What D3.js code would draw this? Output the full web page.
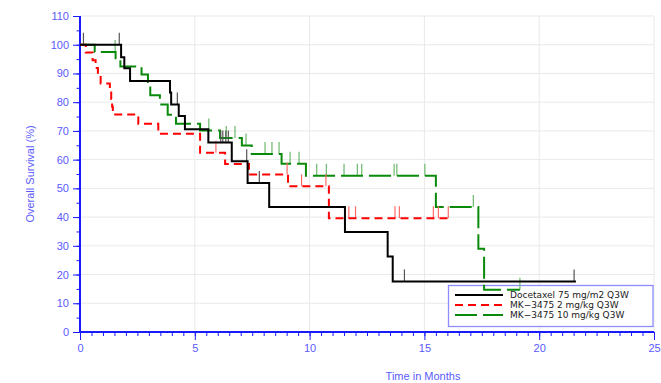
<!DOCTYPE html>
<html><head><meta charset="utf-8">
<script src="https://cdn.jsdelivr.net/npm/d3@7"></script>
<style>body{margin:0;background:#fff;}svg{display:block;font-family:"Liberation Sans",Arial,sans-serif;}</style>
</head><body><svg id="c" width="661" height="383"></svg>
<script>
// ---- data ----
const seriesNames = ["Docetaxel 75 mg/m2 Q3W", "MK\u22123475 2 mg/kg Q3W", "MK\u22123475 10 mg/kg Q3W"];
const doceT = [0, 1.79, 1.93, 2.18, 3.92, 3.97, 4.30, 4.57, 5.59, 6.61, 7.30, 8.24, 11.54, 13.40, 13.62, 21.60];
const doceS = [100, 95.6, 91.8, 87.4, 83.4, 79.2, 75.2, 70.6, 66.0, 59.4, 51.9, 43.5, 34.8, 26.3, 17.6, 17.6];
const doceCensor = [0.15, 1.71, 4.24, 6.13, 6.22, 6.35, 6.46, 7.26, 7.81, 14.13, 21.52];

const mk2T = [0, 0.25, 0.55, 0.68, 0.78, 0.90, 1.30, 1.36, 1.40, 1.43, 2.54, 3.41, 5.23, 6.32, 7.36, 9.06, 10.84, 16.10];
const mk2S = [100, 97.3, 94.6, 91.9, 89.2, 86.5, 83.8, 81.1, 78.4, 75.7, 72.5, 69.0, 62.4, 58.5, 54.8, 50.7, 39.6, 39.6];
const mk2Censor = [5.92, 9.02, 9.65, 10.71, 11.71, 12.00, 13.72, 13.91, 15.39, 15.61, 16.04];

const mk10T = [0, 0.64, 1.55, 1.76, 2.68, 2.96, 3.06, 3.48, 3.82, 4.18, 5.23, 6.10, 7.05, 7.48, 8.78, 9.84, 15.50, 17.35, 17.60, 19.16];
const mk10S = [100, 97.5, 95.3, 92.4, 89.6, 87.0, 82.4, 79.2, 75.6, 72.5, 70.1, 67.5, 64.9, 62.0, 58.6, 54.4, 43.5, 29.0, 14.7, 14.7];
const mk10Censor = [1.53, 5.61, 6.37, 6.75, 7.23, 8.06, 8.36, 8.67, 9.15, 9.54, 10.31, 10.73, 11.50, 12.08, 12.27, 13.68, 13.80, 15.02, 17.13, 19.16];

const xTicks = [0, 5, 10, 15, 20, 25];
const yTicks = [0, 10, 20, 30, 40, 50, 60, 70, 80, 90, 100, 110];

// ---- layout ----
const svg = d3.select("#c");
const L = 80, R = 654, T = 16, B = 332;
const x = d3.scaleLinear().domain([0, 25]).range([L, R]);
const y = d3.scaleLinear().domain([0, 110]).range([B, T]);
const axisBlue = "#1a1aff", labelBlue = "#5a5aff";

// grid
const g = svg.append("g");
g.selectAll(".gx").data(xTicks.slice(1)).enter().append("line")
  .attr("x1", d => x(d)).attr("x2", d => x(d)).attr("y1", T).attr("y2", B)
  .attr("stroke", "#e9e9e9").attr("stroke-width", 1);
g.selectAll(".gy").data(yTicks.slice(1)).enter().append("line")
  .attr("x1", L).attr("x2", R).attr("y1", d => y(d)).attr("y2", d => y(d))
  .attr("stroke", "#e9e9e9").attr("stroke-width", 1);

// axes
const xAx = svg.append("g").attr("transform", `translate(0,${B})`)
  .call(d3.axisBottom(x).tickValues(d3.range(0, 25.01, 0.5)).tickSize(4).tickFormat(""));
xAx.select(".domain").remove();
xAx.selectAll("line").attr("stroke", axisBlue).attr("stroke-width", 1);
const xAx2 = svg.append("g").attr("transform", `translate(0,${B})`)
  .call(d3.axisBottom(x).tickValues(xTicks).tickSize(8).tickPadding(4).tickFormat(d3.format("d")));
xAx2.select(".domain").remove();
xAx2.selectAll("line").attr("stroke", axisBlue).attr("stroke-width", 1);
xAx2.selectAll("text").attr("fill", labelBlue).style("font-size", "11px").style("font-family", "Liberation Sans, Arial, sans-serif");

const yAx = svg.append("g").attr("transform", `translate(${L},0)`)
  .call(d3.axisLeft(y).tickValues(d3.range(0, 110.01, 5)).tickSize(3.5).tickFormat(""));
yAx.select(".domain").remove();
yAx.selectAll("line").attr("stroke", axisBlue).attr("stroke-width", 1);
const yAx2 = svg.append("g").attr("transform", `translate(${L},0)`)
  .call(d3.axisLeft(y).tickValues(yTicks).tickSize(7).tickPadding(4).tickFormat(d3.format("d")));
yAx2.select(".domain").remove();
yAx2.selectAll("line").attr("stroke", axisBlue).attr("stroke-width", 1);
yAx2.selectAll("text").attr("fill", labelBlue).style("font-size", "11px").style("font-family", "Liberation Sans, Arial, sans-serif");

svg.append("line").attr("x1", L).attr("x2", L).attr("y1", T).attr("y2", B + 1)
  .attr("stroke", axisBlue).attr("stroke-width", 2);
svg.append("line").attr("x1", L - 1).attr("x2", R).attr("y1", B).attr("y2", B)
  .attr("stroke", axisBlue).attr("stroke-width", 2);

svg.append("text").attr("x", 423).attr("y", 380).attr("text-anchor", "middle")
  .attr("fill", labelBlue).style("font-size", "11px").text("Time in Months");
svg.append("text").attr("transform", `translate(34,${(T + B) / 2}) rotate(-90)`).attr("text-anchor", "middle")
  .attr("fill", labelBlue).style("font-size", "11px").text("Overall Survival (%)");

// legend box (curves drawn over it)
const lg = svg.append("g");
lg.append("rect").attr("x", 448.5).attr("y", 285.5).attr("width", 204.5).attr("height", 41)
  .attr("fill", "#fff").attr("stroke", "#8c8cff").attr("stroke-width", 1.3);

const styles = [
  {color: "#000000", dash: null, tick: "#555"},
  {color: "#ff0000", dash: "8,5", tick: "#ff6a6a"},
  {color: "#0a8a0a", dash: "22,6", tick: "#6cb86c"}
];
const series = [
  {t: doceT, s: doceS, c: doceCensor},
  {t: mk2T, s: mk2S, c: mk2Censor},
  {t: mk10T, s: mk10S, c: mk10Censor}
];

const line = d3.line().x(d => x(d[0])).y(d => y(d[1])).curve(d3.curveStepAfter);

function valueAt(ser, t) {
  let v = ser.s[0];
  for (let i = 0; i < ser.t.length; i++) { if (ser.t[i] <= t) v = ser.s[i]; }
  return v;
}

[2, 1, 0].forEach(i => {
  const ser = series[i], st = styles[i];
  svg.append("g").selectAll("line").data(ser.c).enter().append("line")
    .attr("x1", d => x(d)).attr("x2", d => x(d))
    .attr("y1", d => y(valueAt(ser, d))).attr("y2", d => y(valueAt(ser, d)) - 12)
    .attr("stroke", st.tick).attr("stroke-width", 1.2);
  const pts = ser.t.map((t, k) => [t, ser.s[k]]);
  svg.append("path").attr("d", line(pts)).attr("fill", "none")
    .attr("stroke", st.color).attr("stroke-width", 2)
    .attr("stroke-dasharray", st.dash);
});

// legend entries
const rowY = [295, 305, 315];
seriesNames.forEach((name, i) => {
  lg.append("line").attr("x1", 455).attr("x2", 503).attr("y1", rowY[i]).attr("y2", rowY[i])
    .attr("stroke", styles[i].color).attr("stroke-width", 2).attr("stroke-dasharray", styles[i].dash);
  lg.append("text").attr("x", 510).attr("y", rowY[i] + 3.2).attr("fill", "#222")
    .style("font-size", "9px").style("font-family", "DejaVu Sans, sans-serif").text(name);
});
</script></body></html>
